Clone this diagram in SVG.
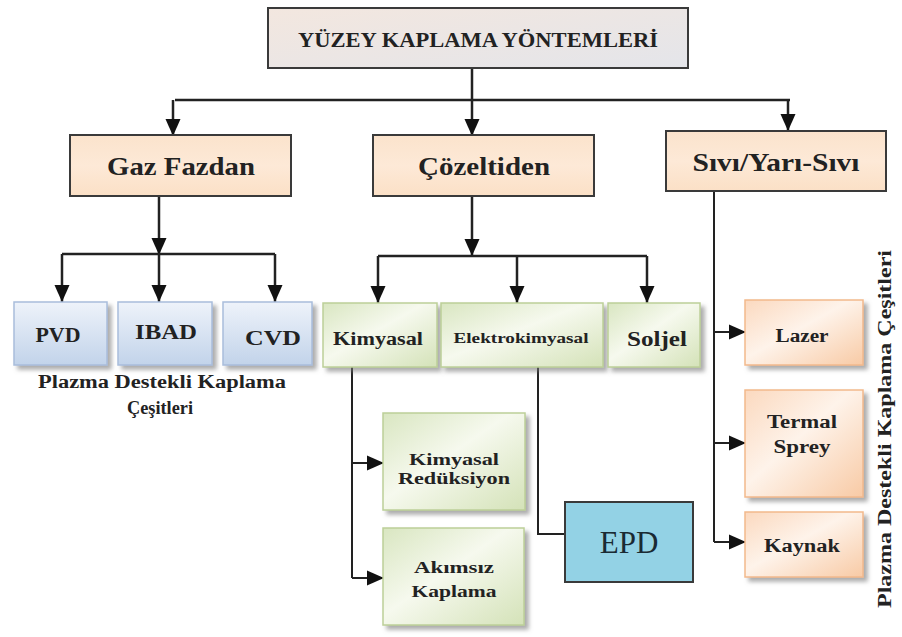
<svg xmlns="http://www.w3.org/2000/svg" width="902" height="637" viewBox="0 0 902 637">
<defs>
  <linearGradient id="gTop" x1="0" y1="0" x2="1" y2="1">
    <stop offset="0" stop-color="#f3e7df"/>
    <stop offset="1" stop-color="#e4e5ea"/>
  </linearGradient>
  <linearGradient id="gMain" x1="0" y1="0" x2="0" y2="1">
    <stop offset="0" stop-color="#fbe3cc"/>
    <stop offset="0.5" stop-color="#fde9d7"/>
    <stop offset="1" stop-color="#fbe0c6"/>
  </linearGradient>
  <linearGradient id="gBlue" x1="0" y1="0" x2="0" y2="1">
    <stop offset="0" stop-color="#eef3fa"/>
    <stop offset="1" stop-color="#c2d3ea"/>
  </linearGradient>
  <linearGradient id="gGreen" x1="0" y1="0" x2="1" y2="1">
    <stop offset="0" stop-color="#d9e6c1"/>
    <stop offset="0.45" stop-color="#f6f9ee"/>
    <stop offset="1" stop-color="#d4e2b8"/>
  </linearGradient>
  <linearGradient id="gOrange" x1="0" y1="0" x2="1" y2="1">
    <stop offset="0" stop-color="#fbd9bf"/>
    <stop offset="0.45" stop-color="#fef3ea"/>
    <stop offset="1" stop-color="#f8caa5"/>
  </linearGradient>
  <filter id="sh" x="-10%" y="-10%" width="130%" height="130%">
    <feDropShadow dx="4" dy="4" stdDeviation="2" flood-color="#777" flood-opacity="0.6"/>
  </filter>
  <marker id="ah" markerUnits="userSpaceOnUse" markerWidth="18" markerHeight="18" viewBox="0 0 18 18" refX="17" refY="9" orient="auto">
    <path d="M0,1.5 L17,9 L0,16.5 Z" fill="#111"/>
  </marker>
  <style>
    .t { font-family: "Liberation Serif", "Times New Roman", serif; font-weight: bold; fill: #222; text-anchor: middle; }
    .dark { stroke: #3a3a3a; stroke-width: 2; }
    .conn { fill: none; stroke: #222; stroke-width: 2.5; }
    .thin { stroke-width: 2; }
    .arr { marker-end: url(#ah); }
    .blue { fill: url(#gBlue); stroke: #a9bddb; stroke-width: 1.5; filter: url(#sh); }
    .green { fill: url(#gGreen); stroke: #bccf98; stroke-width: 1.5; filter: url(#sh); }
    .orange { fill: url(#gOrange); stroke: #f2b98c; stroke-width: 1.5; filter: url(#sh); }
  </style>
</defs>
<rect width="902" height="637" fill="#ffffff"/>

<g id="connectors">
  <path class="conn" d="M472,68 V100 M175,100 H790"/>
  <path class="conn arr" d="M173,100 V136"/>
  <path class="conn arr" d="M472,100 V136"/>
  <path class="conn arr" d="M788,100 V131"/>
  <path class="conn arr" d="M159,196 V255"/>
  <path class="conn" d="M62,254 H275"/>
  <path class="conn arr" d="M62,254 V302"/>
  <path class="conn arr" d="M159,254 V302"/>
  <path class="conn arr" d="M275,254 V302"/>
  <path class="conn arr" d="M472,196 V256"/>
  <path class="conn" d="M378,256 H647"/>
  <path class="conn arr" d="M378,256 V303"/>
  <path class="conn arr" d="M517,256 V303"/>
  <path class="conn arr" d="M647,256 V303"/>
  <path class="conn thin" d="M352,367 V578"/>
  <path class="conn thin arr" d="M352,463 H384"/>
  <path class="conn thin arr" d="M352,578 H384"/>
  <path class="conn thin" d="M538,367 V534 H565"/>
  <path class="conn thin" d="M714,191 V542"/>
  <path class="conn thin arr" d="M714,332 H746"/>
  <path class="conn thin arr" d="M714,443 H746"/>
  <path class="conn thin arr" d="M714,542 H746"/>
</g>

<g id="n-root">
  <rect x="268" y="8" width="420" height="60" fill="url(#gTop)" class="dark"/>
  <text class="t" x="478" y="47" font-size="20" textLength="360" lengthAdjust="spacingAndGlyphs">YÜZEY KAPLAMA YÖNTEMLERİ</text>
</g>
<g id="n-gaz">
  <rect x="70" y="135" width="221" height="61" fill="url(#gMain)" class="dark"/>
  <text class="t" x="181" y="175" font-size="26" textLength="148" lengthAdjust="spacingAndGlyphs">Gaz Fazdan</text>
</g>
<g id="n-coz">
  <rect x="373" y="135" width="221" height="61" fill="url(#gMain)" class="dark"/>
  <text class="t" x="484" y="175" font-size="26" textLength="132" lengthAdjust="spacingAndGlyphs">Çözeltiden</text>
</g>
<g id="n-sivi">
  <rect x="666" y="131" width="220" height="60" fill="url(#gMain)" class="dark"/>
  <text class="t" x="776" y="171" font-size="26" textLength="167" lengthAdjust="spacingAndGlyphs">Sıvı/Yarı-Sıvı</text>
</g>

<g id="n-pvd">
  <rect x="14" y="302" width="93" height="63" class="blue"/>
  <text class="t" x="58" y="342" font-size="22" textLength="45" lengthAdjust="spacingAndGlyphs">PVD</text>
</g>
<g id="n-ibad">
  <rect x="118" y="302" width="94" height="63" class="blue"/>
  <text class="t" x="166" y="339" font-size="22" textLength="62" lengthAdjust="spacingAndGlyphs">IBAD</text>
</g>
<g id="n-cvd">
  <rect x="223" y="302" width="89" height="63" class="blue"/>
  <text class="t" x="273" y="345" font-size="22" textLength="56" lengthAdjust="spacingAndGlyphs">CVD</text>
</g>
<g id="caption-left">
  <text class="t" x="162" y="388" font-size="18" fill="#1e2d2b" textLength="248" lengthAdjust="spacingAndGlyphs">Plazma Destekli Kaplama</text>
  <text class="t" x="160" y="414" font-size="18" fill="#1e2d2b" textLength="66" lengthAdjust="spacingAndGlyphs">Çeşitleri</text>
</g>

<g id="n-kimyasal">
  <rect x="323" y="303" width="114" height="64" class="green"/>
  <text class="t" x="378" y="345" font-size="18" textLength="90" lengthAdjust="spacingAndGlyphs">Kimyasal</text>
</g>
<g id="n-elektro">
  <rect x="441" y="303" width="162" height="64" class="green"/>
  <text class="t" x="521" y="343" font-size="15" textLength="135" lengthAdjust="spacingAndGlyphs">Elektrokimyasal</text>
</g>
<g id="n-soljel">
  <rect x="608" y="303" width="92" height="64" class="green"/>
  <text class="t" x="657" y="346" font-size="21" textLength="60" lengthAdjust="spacingAndGlyphs">Soljel</text>
</g>

<g id="n-kimred">
  <rect x="383" y="413" width="142" height="97" class="green"/>
  <text class="t" x="454" y="465" font-size="17" textLength="90" lengthAdjust="spacingAndGlyphs">Kimyasal</text>
  <text class="t" x="454" y="484" font-size="17" textLength="112" lengthAdjust="spacingAndGlyphs">Redüksiyon</text>
</g>
<g id="n-akimsiz">
  <rect x="383" y="528" width="141" height="97" class="green"/>
  <text class="t" x="454" y="573" font-size="17" textLength="80" lengthAdjust="spacingAndGlyphs">Akımsız</text>
  <text class="t" x="454" y="597" font-size="17" textLength="85" lengthAdjust="spacingAndGlyphs">Kaplama</text>
</g>
<g id="n-epd">
  <rect x="565" y="502" width="128" height="80" fill="#93d2e5" class="dark"/>
  <text x="629" y="553" font-family="'Liberation Serif', 'Times New Roman', serif" font-size="31" fill="#1a2a33" text-anchor="middle">EPD</text>
</g>

<g id="n-lazer">
  <rect x="745" y="300" width="118" height="65" class="orange"/>
  <text class="t" x="802" y="342" font-size="18" textLength="53" lengthAdjust="spacingAndGlyphs">Lazer</text>
</g>
<g id="n-termal">
  <rect x="745" y="390" width="118" height="107" class="orange"/>
  <text class="t" x="802" y="428" font-size="18" textLength="70" lengthAdjust="spacingAndGlyphs">Termal</text>
  <text class="t" x="802" y="453" font-size="18" textLength="57" lengthAdjust="spacingAndGlyphs">Sprey</text>
</g>
<g id="n-kaynak">
  <rect x="745" y="512" width="118" height="65" class="orange"/>
  <text class="t" x="802" y="552" font-size="18" textLength="76" lengthAdjust="spacingAndGlyphs">Kaynak</text>
</g>

<g id="caption-right">
  <text class="t" transform="translate(891,429) rotate(-90)" font-size="18" fill="#1e2d2b" textLength="358" lengthAdjust="spacingAndGlyphs">Plazma Destekli Kaplama Çeşitleri</text>
</g>
</svg>
